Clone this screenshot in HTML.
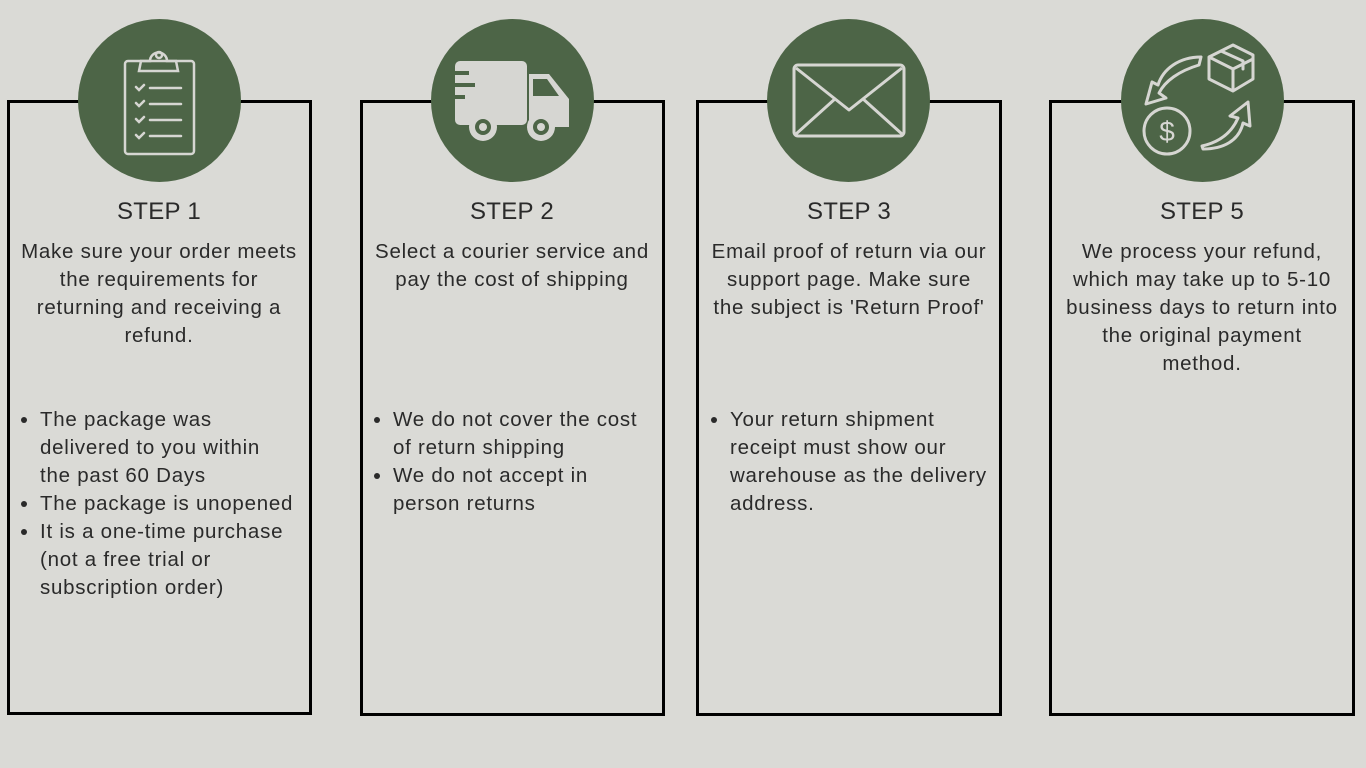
<!DOCTYPE html>
<html><head><meta charset="utf-8"><style>
body{margin:0;width:1366px;height:768px;background:#dadad6;position:relative;overflow:hidden;font-family:"Liberation Sans",sans-serif;color:#2a2a2a}
.box{position:absolute;border:3.5px solid #000;box-sizing:border-box}
.c{position:absolute;width:163px;height:163px;border-radius:50%;background:#4d6547}
.c svg{position:absolute;left:0;top:0}
.h{position:absolute;text-align:center;font-size:24px;letter-spacing:0.3px;width:300px;line-height:30px}
.t{position:absolute;text-align:center;font-size:20.5px;line-height:28px;width:300px;white-space:nowrap;letter-spacing:0.75px}
ul{position:absolute;margin:0;padding-left:32px;font-size:20.5px;line-height:28px;white-space:nowrap;letter-spacing:0.75px}
</style></head><body>
<div class="box" style="left:7px;top:100px;width:305px;height:615px"></div>
<div class="box" style="left:360px;top:100px;width:305px;height:616px"></div>
<div class="box" style="left:696px;top:100px;width:306px;height:616px"></div>
<div class="box" style="left:1049px;top:100px;width:306px;height:616px"></div>

<div class="c" style="left:78px;top:19px"><svg width="163" height="163" fill="none" stroke="#d6d6d2" stroke-width="2.5" stroke-linecap="round">
<rect x="47" y="42" width="69" height="93" rx="3"/><path d="M61 52 L63 42 H72 A8 8 0 0 1 89 42 H98 L100 52 Z"/><circle cx="81" cy="36" r="3"/>
<path d="M58 68l3 3 5-5M58 84l3 3 5-5M58 100l3 3 5-5M58 116l3 3 5-5M72 69h31M72 85h31M72 101h31M72 117h31"/></svg></div>

<div class="c" style="left:431px;top:19px"><svg width="163" height="163"><g fill="#d6d6d2"><rect x="24" y="42" width="72" height="64" rx="5"/><path d="M98 55h20l20 25v28H98z"/><circle cx="52" cy="108" r="14"/><circle cx="110" cy="108" r="14"/></g><g fill="#4d6547"><path d="M102 60h14l12 17h-26z"/><circle cx="52" cy="108" r="8"/><circle cx="110" cy="108" r="8"/><rect x="20" y="52" width="18" height="4"/><rect x="20" y="64" width="24" height="4"/><rect x="20" y="76" width="14" height="4"/></g><g fill="#d6d6d2"><circle cx="52" cy="108" r="4"/><circle cx="110" cy="108" r="4"/></g></svg></div>

<div class="c" style="left:767px;top:19px"><svg width="163" height="163" fill="none" stroke="#d6d6d2" stroke-width="3" stroke-linejoin="round"><rect x="27" y="46" width="110" height="71" rx="4"/><path d="M29 49l53 42 53-42M29 115l40-36M135 115l-40-36"/></svg></div>

<div class="c" style="left:1121px;top:19px"><svg width="163" height="163" fill="none" stroke="#d6d6d2" stroke-width="3" stroke-linejoin="round" stroke-linecap="round"><path d="M80 38c-22 0-38 12-43 28l-6-3 -6 22 20-6-7-5c6-12 20-22 40-28z"/><path d="M88 38l24-12 20 10v24l-20 12-24-12zM88 38l24 12 20-10M112 50v22M100 32l22 10v8"/><circle cx="46" cy="112" r="23"/><text x="46" y="122" font-size="28" fill="#d6d6d2" stroke="none" text-anchor="middle" font-family="Liberation Sans">$</text><path d="M82 130c20 0 36-8 40-26l7 3 -2-24-18 14 8 2c-6 14-18 24-36 28z"/></svg></div>

<div class="h" style="left:9px;top:197px">STEP 1</div>
<div class="h" style="left:362px;top:197px">STEP 2</div>
<div class="h" style="left:699px;top:197px">STEP 3</div>
<div class="h" style="left:1052px;top:197px">STEP 5</div>

<div class="t" style="left:9px;top:238px">Make sure your order meets<br>the requirements for<br>returning and receiving a<br>refund.</div>
<div class="t" style="left:362px;top:238px">Select a courier service and<br>pay the cost of shipping</div>
<div class="t" style="left:699px;top:238px">Email proof of return via our<br>support page. Make sure<br>the subject is 'Return Proof'</div>
<div class="t" style="left:1052px;top:238px">We process your refund,<br>which may take up to 5-10<br>business days to return into<br>the original payment<br>method.</div>

<ul style="left:8px;top:406px"><li>The package was<br>delivered to you within<br>the past 60 Days</li><li>The package is unopened</li><li>It is a one-time purchase<br>(not a free trial or<br>subscription order)</li></ul>
<ul style="left:361px;top:406px"><li>We do not cover the cost<br>of return shipping</li><li>We do not accept in<br>person returns</li></ul>
<ul style="left:698px;top:406px"><li>Your return shipment<br>receipt must show our<br>warehouse as the delivery<br>address.</li></ul>
</body></html>
